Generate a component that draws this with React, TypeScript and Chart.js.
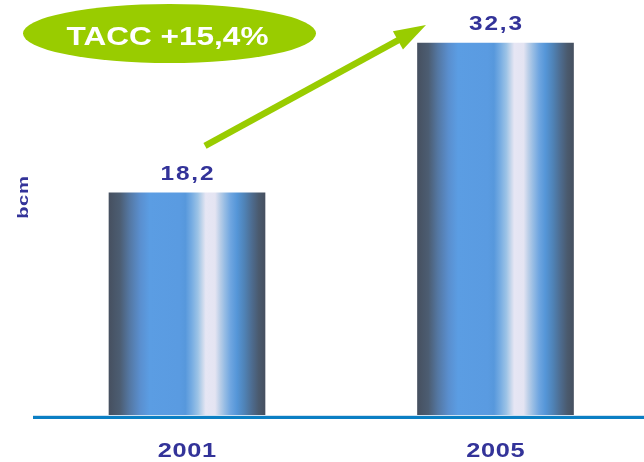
import { useEffect, useRef } from "react";
import { Chart, registerables } from "chart.js";

Chart.register(...registerables);

// Volumes per year (bcm)
const years = ["2001", "2005"];
const volumes = [18.2, 32.3];
const growthLabel = "TACC +15,4%";
const unitLabel = "bcm";

// Value axis range; bars rise from the floor value
const axisFloor = -2.8;
const axisCeil = 36.35;

const NAVY = "#333399";
const LIME = "#99cc00";
const BASE_BLUE = "#0b7fc4";

// Horizontal cylinder shading across each bar
const barStops: [number, string][] = [
  [0, "#465060"],
  [0.07, "#4c5d72"],
  [0.13, "#5477a2"],
  [0.2, "#5a8fcf"],
  [0.26, "#5b9de3"],
  [0.45, "#5a9be1"],
  [0.49, "#5798dc"],
  [0.53, "#76ace2"],
  [0.57, "#9cc3e6"],
  [0.6, "#c9d8ec"],
  [0.62, "#e6e6f4"],
  [0.68, "#e4e4f2"],
  [0.71, "#bccfe8"],
  [0.74, "#98bde4"],
  [0.78, "#6ea5e0"],
  [0.82, "#5596d8"],
  [0.87, "#4f82b5"],
  [0.92, "#4d6a8c"],
  [0.96, "#4a5a6e"],
  [1, "#465060"],
];

const BAR_WIDTH = 156;

function wideText(
  ctx: CanvasRenderingContext2D,
  text: string,
  x: number,
  y: number,
  size: number,
  scaleX: number,
  color: string,
  spacing = 0,
  rotate = 0
) {
  ctx.save();
  ctx.font = `bold ${size}px "Liberation Sans", Arial, sans-serif`;
  ctx.fillStyle = color;
  (ctx as any).letterSpacing = `${spacing}px`;
  ctx.textAlign = "center";
  ctx.textBaseline = "alphabetic";
  ctx.translate(x, y);
  if (rotate) ctx.rotate(rotate);
  ctx.scale(scaleX, 1);
  ctx.fillText(text, spacing / 2, 0);
  ctx.restore();
}

const decorations = {
  id: "decorations",
  afterDraw(chart: Chart) {
    const ctx = chart.ctx;
    const yScale = chart.scales.y;
    const bars = chart.getDatasetMeta(0).data as any[];
    const baseY = yScale.getPixelForValue(axisFloor);

    // Baseline
    ctx.save();
    ctx.fillStyle = "#cfe3f2";
    ctx.fillRect(33, baseY - 1, chart.width - 33, 1);
    ctx.fillStyle = BASE_BLUE;
    ctx.fillRect(33, baseY, chart.width - 33, 3);
    ctx.restore();

    // Value labels and year labels
    bars.forEach((bar, i) => {
      const label = volumes[i].toFixed(1).replace(".", ",");
      wideText(ctx, label, bar.x, bar.y - 13, 19.5, 1.25, NAVY, 1.5);
      wideText(ctx, years[i], bar.x, baseY + 41, 19.5, 1.3, NAVY, 0.5);
    });

    // Unit label
    wideText(ctx, unitLabel, 28, 197.5, 15.5, 1.3, NAVY, 0.5, -Math.PI / 2);

    // Growth badge
    ctx.save();
    ctx.fillStyle = LIME;
    ctx.beginPath();
    ctx.ellipse(169.5, 33.5, 146.5, 29.5, 0, 0, Math.PI * 2);
    ctx.fill();
    ctx.restore();
    wideText(ctx, growthLabel, 167.5, 45, 26.5, 1.19, "#ffffff", 0);

    // Growth arrow between bar tops
    if (bars.length > 1) {
      const tx = bars[0].x + 18;
      const ty = bars[0].y - 47;
      const hx = bars[1].x - 69.5;
      const hy = bars[1].y - 18;
      const len = Math.hypot(hx - tx, hy - ty);
      const ux = (hx - tx) / len;
      const uy = (hy - ty) / len;
      const headLen = 32;
      const halfW = 10.5;
      const bx = hx - ux * headLen;
      const by = hy - uy * headLen;
      ctx.save();
      ctx.strokeStyle = LIME;
      ctx.fillStyle = LIME;
      ctx.lineWidth = 6.5;
      ctx.lineCap = "butt";
      ctx.beginPath();
      ctx.moveTo(tx, ty);
      ctx.lineTo(bx + ux * 2, by + uy * 2);
      ctx.stroke();
      ctx.beginPath();
      ctx.moveTo(hx, hy);
      ctx.lineTo(bx - uy * halfW, by + ux * halfW);
      ctx.lineTo(bx + uy * halfW, by - ux * halfW);
      ctx.closePath();
      ctx.fill();
      ctx.restore();
    }
  },
};

export default function App() {
  const canvasRef = useRef<HTMLCanvasElement | null>(null);

  useEffect(() => {
    const canvas = canvasRef.current;
    if (!canvas) return;
    const chart = new Chart(canvas, {
      type: "bar",
      data: {
        labels: years,
        datasets: [
          {
            data: volumes,
            base: axisFloor,
            barThickness: BAR_WIDTH,
            clip: false as any,
            borderWidth: 0,
            backgroundColor: (context: any) => {
              const c = context.chart as Chart;
              const xs = c.scales?.x;
              if (!xs || context.dataIndex === undefined) return "#5b9de3";
              const cx = xs.getPixelForValue(context.dataIndex);
              if (!Number.isFinite(cx)) return "#5b9de3";
              const g = c.ctx.createLinearGradient(
                cx - BAR_WIDTH / 2,
                0,
                cx + BAR_WIDTH / 2,
                0
              );
              barStops.forEach(([o, col]) => g.addColorStop(o, col));
              return g;
            },
          },
        ],
      },
      options: {
        animation: false,
        responsive: false,
        maintainAspectRatio: false,
        layout: { padding: { left: 187, right: 148.5, top: 0, bottom: 46 } },
        plugins: {
          legend: { display: false },
          tooltip: { enabled: false },
        },
        scales: {
          x: { type: "category", display: false, offset: false },
          y: { display: false, min: axisFloor, max: axisCeil },
        },
      },
      plugins: [decorations],
    });
    return () => chart.destroy();
  }, []);

  return (
    <div
      style={{
        position: "fixed",
        left: 0,
        top: 0,
        width: 644,
        height: 462,
        background: "#ffffff",
      }}
    >
      <canvas
        ref={canvasRef}
        width={644}
        height={462}
        style={{ display: "block", width: 644, height: 462 }}
      />
    </div>
  );
}
